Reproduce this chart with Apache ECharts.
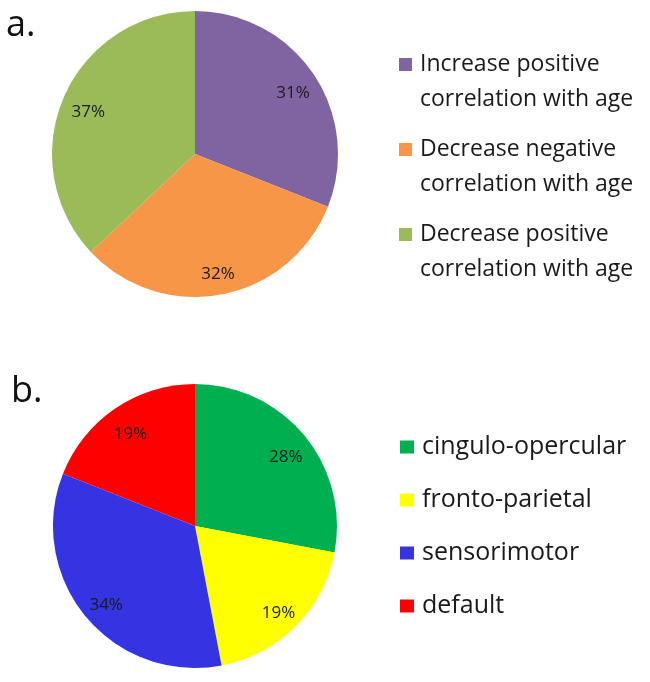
<!DOCTYPE html>
<html>
<head>
<meta charset="utf-8">
<script src="https://cdn.jsdelivr.net/npm/echarts@6/dist/echarts.min.js"></script>
<style>
html,body{margin:0;padding:0;background:#fff;}
#chart{width:650px;height:682px;}
</style>
</head>
<body>
<div id="chart"></div>
<script>
// ---- data ----
var categoriesA = ['Increase positive correlation with age', 'Decrease negative correlation with age', 'Decrease positive correlation with age'];
var valuesA = [31, 32, 37];
var colorsA = ['#8064A2', '#F79646', '#9BBB59'];

var categoriesB = ['cingulo-opercular', 'fronto-parietal', 'sensorimotor', 'default'];
var valuesB = [28, 19, 34, 19];
var colorsB = ['#00B050', '#FFFF00', '#3434E2', '#FF0000'];

var panelLabels = ['a.', 'b.'];

function mk(cats, vals, cols) {
  return cats.map(function (c, i) { return { name: c, value: vals[i], itemStyle: { color: cols[i] } }; });
}
function mkPlain(cats, vals) {
  return cats.map(function (c, i) { return { name: c, value: vals[i] }; });
}

var FONT = 'Open Sans';
var R1 = 143, R2 = 142;
var C1 = [195, 154], C2 = [195, 526];

var labelStyle = {
  show: true, position: 'inside', formatter: '{c}%', offset: [1, 5],
  fontFamily: FONT, fontSize: 17, color: '#1a1a1a'
};

var chart = echarts.init(document.getElementById('chart'), null, { renderer: 'canvas' });
chart.setOption({
  backgroundColor: '#ffffff',
  animation: false,
  title: [
    { text: panelLabels[0], left: 6, top: 8, padding: 0,
      textStyle: { fontFamily: FONT, fontSize: 36, fontWeight: 'normal', color: '#111', lineHeight: 36 } },
    { text: panelLabels[1], left: 11, top: 374, padding: 0,
      textStyle: { fontFamily: FONT, fontSize: 36, fontWeight: 'normal', color: '#111', lineHeight: 36 } }
  ],
  legend: [
    {
      data: categoriesA, orient: 'vertical', left: 399, top: 12, padding: 0,
      itemWidth: 13, itemHeight: 13, itemGap: -20, icon: 'rect',
      selectedMode: false,
      formatter: function (n) { return '\n' + n.replace(' correlation', '\ncorrelation'); },
      textStyle: { fontFamily: FONT, fontSize: 23, lineHeight: 35, color: '#1a1a1a', padding: [0, 0, 0, 3] }
    },
    {
      data: categoriesB, orient: 'vertical', left: 400, top: 433, padding: 0,
      itemWidth: 14, itemHeight: 13, itemGap: 25, icon: 'rect',
      selectedMode: false,
      textStyle: { fontFamily: FONT, fontSize: 25, lineHeight: 28, color: '#1a1a1a', padding: [0, 0, 0, 3] }
    }
  ],
  series: [
    { type: 'pie', center: C1, radius: [0, R1], startAngle: 90, clockwise: true,
      data: mk(categoriesA, valuesA, colorsA), label: { show: false }, labelLine: { show: false },
      itemStyle: { borderWidth: 0 }, silent: true },
    { type: 'pie', center: C1, radius: [R1 * 0.6, R1], startAngle: 90, clockwise: true,
      data: mkPlain(categoriesA, valuesA), label: labelStyle, labelLine: { show: false },
      itemStyle: { color: 'rgba(0,0,0,0)', borderWidth: 0 }, silent: true, legendHoverLink: false },
    { type: 'pie', center: C2, radius: [0, R2], startAngle: 90, clockwise: true,
      data: mk(categoriesB, valuesB, colorsB), label: { show: false }, labelLine: { show: false },
      itemStyle: { borderWidth: 0 }, silent: true },
    { type: 'pie', center: C2, radius: [R2 * 0.6, R2], startAngle: 90, clockwise: true,
      data: mkPlain(categoriesB, valuesB), label: labelStyle, labelLine: { show: false },
      itemStyle: { color: 'rgba(0,0,0,0)', borderWidth: 0 }, silent: true, legendHoverLink: false }
  ]
});
</script>
</body>
</html>
